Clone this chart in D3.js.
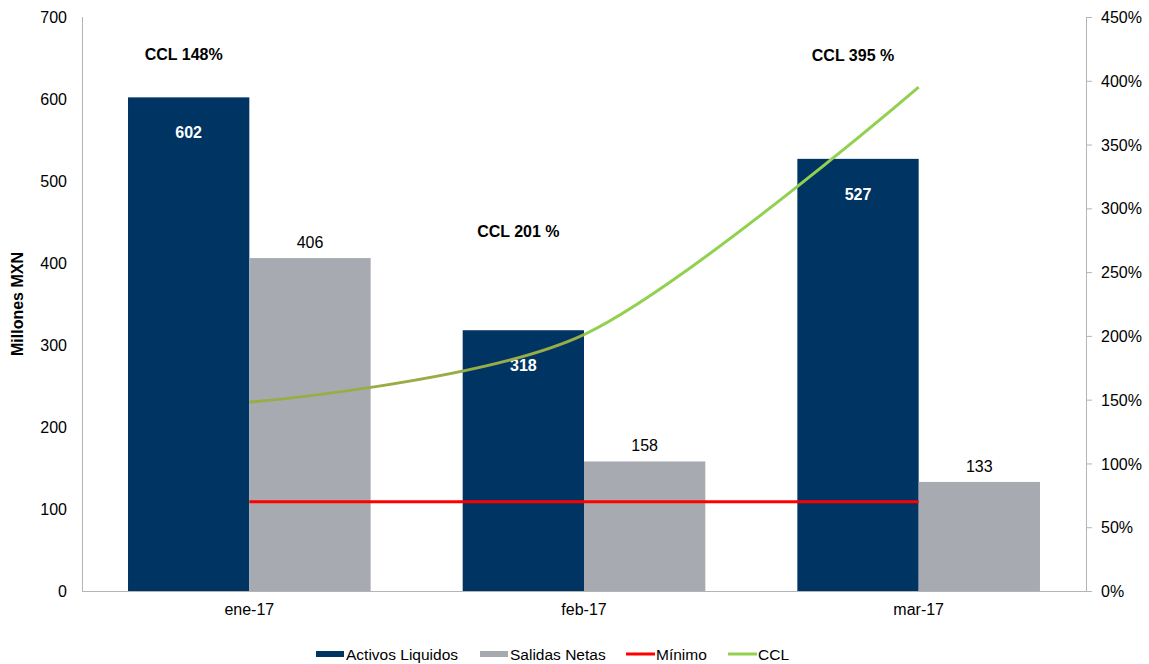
<!DOCTYPE html>
<html>
<head>
<meta charset="utf-8">
<script src="https://cdn.jsdelivr.net/npm/d3@7"></script>
<style>
  body { margin: 0; background: #fff; }
  text { font-family: "Liberation Sans", Arial, sans-serif; }
  .axis path, .axis line { stroke: #b4b4b4; }
  .axis text { font-size: 16px; fill: #000; }
</style>
</head>
<body>
<div id="chart"></div>
<script>
// data
const categories = ["ene-17", "feb-17", "mar-17"];
const activos = [602, 318, 527];
const salidas = [406, 158, 133];
const minimo = [70, 70, 70];          // % (eje derecho)
const ccl = [148, 201, 395];          // % (eje derecho)
const cclLabels = ["CCL 148%", "CCL 201 %", "CCL 395 %"];
const cclLabelLevel = [648, 432, 646]; // en Millones MXN
const leftTicks = [0, 100, 200, 300, 400, 500, 600, 700];
const rightTicks = [0, 50, 100, 150, 200, 250, 300, 350, 400, 450];

const W = 1149, H = 664;
const margin = {top: 17, right: 63, bottom: 73, left: 82};
const width = W - margin.left - margin.right;
const height = H - margin.top - margin.bottom;

const svg = d3.select("#chart").append("svg")
    .attr("width", W)
    .attr("height", H);
const g = svg.append("g")
    .attr("transform", "translate(" + margin.left + "," + margin.top + ")");

// scales
const x0 = d3.scaleBand().domain(categories).range([0, width])
    .paddingInner(0.275).paddingOuter(0.1375);
const x1 = d3.scaleBand().domain(["a", "s"]).range([0, x0.bandwidth()]);
const y = d3.scaleLinear().domain([0, 700]).range([height, 0]);
const y2 = d3.scaleLinear().domain([0, 450]).range([height, 0]);

const navy = "#003463", gray = "#a7abb1";

// bars
const groups = g.selectAll(".grp").data(categories).enter().append("g")
    .attr("transform", d => "translate(" + x0(d) + ",0)");

groups.append("rect")
    .attr("x", x1("a")).attr("width", x1.bandwidth())
    .attr("y", (d, i) => y(activos[i]))
    .attr("height", (d, i) => height - y(activos[i]))
    .attr("fill", navy);

groups.append("rect")
    .attr("x", x1("s")).attr("width", x1.bandwidth())
    .attr("y", (d, i) => y(salidas[i]))
    .attr("height", (d, i) => height - y(salidas[i]))
    .attr("fill", gray);

// axes
const xAxis = g.append("g").attr("class", "axis")
    .attr("transform", "translate(0," + height + ")")
    .call(d3.axisBottom(x0).tickSize(0).tickPadding(13));
xAxis.select(".domain").attr("d", "M0,0.5H" + (width + 6));

const yAxis = g.append("g").attr("class", "axis")
    .call(d3.axisLeft(y).tickValues(leftTicks).tickSize(0).tickPadding(15));
yAxis.select(".domain").attr("d", "M0.5," + height + "V0");

const y2Axis = g.append("g").attr("class", "axis")
    .attr("transform", "translate(" + width + ",0)")
    .call(d3.axisRight(y2).tickValues(rightTicks).tickSize(6).tickPadding(9)
        .tickFormat(d => d + "%"));
y2Axis.select(".domain").attr("d", "M0.5," + height + "V0");
y2Axis.selectAll(".tick text").attr("dy", "0.35em");

// value labels
groups.append("text")
    .attr("x", x1("a") + x1.bandwidth() / 2)
    .attr("y", (d, i) => y(activos[i]) + 41)
    .attr("text-anchor", "middle")
    .attr("font-size", 16).attr("font-weight", "bold").attr("fill", "#fff")
    .text((d, i) => activos[i]);

groups.append("text")
    .attr("x", x1("s") + x1.bandwidth() / 2)
    .attr("y", (d, i) => y(salidas[i]) - 10)
    .attr("text-anchor", "middle")
    .attr("font-size", 16).attr("fill", "#000")
    .text((d, i) => salidas[i]);

groups.append("text")
    .attr("x", x1("a") + x1.bandwidth() / 2 - 5)
    .attr("y", (d, i) => y(cclLabelLevel[i]))
    .attr("text-anchor", "middle")
    .attr("font-size", 16).attr("font-weight", "bold").attr("fill", "#000")
    .text((d, i) => cclLabels[i]);

// lines
const cx = d => x0(d) + x0.bandwidth() / 2;

const minLine = d3.line()
    .x((d, i) => cx(categories[i]))
    .y(d => y2(d));
g.append("path").datum(minimo)
    .attr("d", minLine)
    .attr("fill", "none").attr("stroke", "#ff0000").attr("stroke-width", 3);

const cclLine = d3.line()
    .x((d, i) => cx(categories[i]))
    .y(d => y2(d))
    .curve(d3.curveCardinal.tension(0.1));

// first segment is drawn darker, as in the original
const defs = svg.append("defs");
defs.append("clipPath").attr("id", "clipA").append("rect")
    .attr("x", -10).attr("y", -10).attr("width", cx(categories[1]) + 10).attr("height", height + 20);
defs.append("clipPath").attr("id", "clipB").append("rect")
    .attr("x", cx(categories[1])).attr("y", -10).attr("width", width).attr("height", height + 20);

g.append("path").datum(ccl)
    .attr("d", cclLine).attr("clip-path", "url(#clipA)")
    .attr("fill", "none").attr("stroke", "#98ad48").attr("stroke-width", 3);
g.append("path").datum(ccl)
    .attr("d", cclLine).attr("clip-path", "url(#clipB)")
    .attr("fill", "none").attr("stroke", "#92d050").attr("stroke-width", 3);

// y title
svg.append("text")
    .attr("transform", "translate(23," + (margin.top + height / 2) + ") rotate(-90)")
    .attr("text-anchor", "middle")
    .attr("font-size", 16).attr("font-weight", "bold")
    .text("Millones MXN");

// legend
const legend = [
    {name: "Activos Liquidos", color: navy, type: "rect", x: 316},
    {name: "Salidas Netas", color: gray, type: "rect", x: 480},
    {name: "Mínimo", color: "#ff0000", type: "line", x: 626},
    {name: "CCL", color: "#92d050", type: "line", x: 728}
];
const lg = svg.append("g").attr("transform", "translate(0,654)");
legend.forEach(l => {
    if (l.type === "rect") {
        lg.append("rect").attr("x", l.x).attr("y", -3).attr("width", 28).attr("height", 6).attr("fill", l.color);
    } else {
        lg.append("line").attr("x1", l.x).attr("x2", l.x + 29).attr("y1", 0).attr("y2", 0)
            .attr("stroke", l.color).attr("stroke-width", 3);
    }
    lg.append("text").attr("x", l.x + 30).attr("y", 5.5)
        .attr("font-size", 15.5).text(l.name);
});
</script>
</body>
</html>
